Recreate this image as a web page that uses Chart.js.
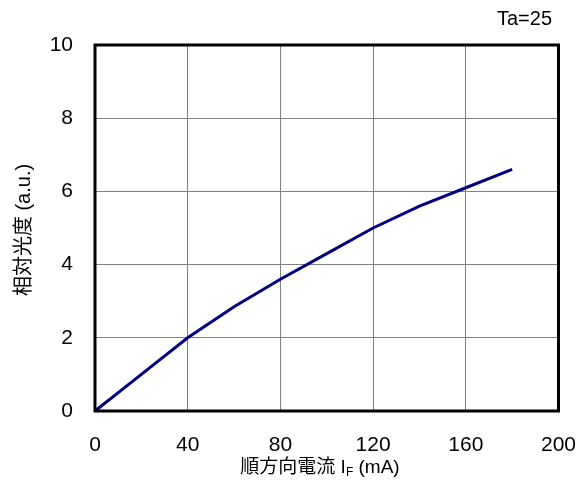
<!DOCTYPE html>
<html>
<head>
<meta charset="utf-8">
<script src="https://cdn.jsdelivr.net/npm/chart.js@4/dist/chart.umd.min.js"></script>
<style>
html,body{margin:0;padding:0;background:#fff;}
#c{display:block;}
</style>
</head>
<body>
<canvas id="c" width="588" height="486"></canvas>
<script>
const currentMA = [0, 20, 40, 60, 80, 100, 120, 140, 160, 180];
const relLuminance = [0, 1.0, 2.0, 2.85, 3.6, 4.3, 5.0, 5.6, 6.1, 6.6];
const xTicks = [0, 40, 80, 120, 160, 200];
const yTicks = [0, 2, 4, 6, 8, 10];
const yTitle = '相対光度 (a.u.)';
const xTitleMain = '順方向電流 I';
const xTitleSub = 'F';
const xTitleTail = ' (mA)';
const noteText = 'Ta=25';

const FONT = '"Liberation Sans", Arial, "Noto Sans CJK JP", sans-serif';

const decor = {
  id: 'decor',
  afterDraw(chart) {
    const ctx = chart.ctx;
    const a = chart.chartArea;
    ctx.save();
    ctx.strokeStyle = '#000';
    ctx.lineWidth = 3;
    ctx.strokeRect(a.left, a.top, a.right - a.left, a.bottom - a.top);
    ctx.fillStyle = '#000';
    ctx.font = '20px ' + FONT;
    ctx.textAlign = 'right';
    ctx.textBaseline = 'middle';
    ctx.fillText(noteText, 552, 19);
    const mainFont = '19px ' + FONT;
    const subFont = '12px ' + FONT;
    ctx.font = mainFont;
    const w1 = ctx.measureText(xTitleMain).width;
    const w3 = ctx.measureText(xTitleTail).width;
    ctx.font = subFont;
    const w2 = ctx.measureText(xTitleSub).width;
    const total = w1 + w2 + w3;
    let x = 320 - total / 2;
    const y = 468;
    ctx.textAlign = 'left';
    ctx.textBaseline = 'middle';
    ctx.font = mainFont;
    ctx.fillText(xTitleMain, x, y);
    x += w1;
    ctx.font = subFont;
    ctx.fillText(xTitleSub, x, y + 5);
    x += w2;
    ctx.font = mainFont;
    ctx.fillText(xTitleTail, x, y);
    ctx.translate(24, 230);
    ctx.rotate(-Math.PI / 2);
    ctx.textAlign = 'center';
    ctx.textBaseline = 'middle';
    ctx.font = '20px ' + FONT;
    ctx.fillText(yTitle, 0, 0);
    ctx.restore();
  }
};

new Chart(document.getElementById('c'), {
  type: 'line',
  data: {
    datasets: [{
      data: currentMA.map((v, i) => ({x: v, y: relLuminance[i]})),
      borderColor: '#000080',
      borderWidth: 3,
      pointRadius: 0,
      tension: 0,
      fill: false,
      clip: false
    }]
  },
  options: {
    responsive: false,
    animation: false,
    devicePixelRatio: 1,
    layout: { padding: { left: 0, top: 45, right: 29.5, bottom: 0 } },
    plugins: { legend: { display: false }, tooltip: { enabled: false } },
    scales: {
      x: {
        type: 'linear',
        min: 0, max: 200,
        afterBuildTicks(s) { s.ticks = xTicks.map(v => ({value: v})); },
        afterFit(s) { s.height = 75; s.paddingLeft = 0; s.paddingRight = 0; },
        grid: { color: '#808080', lineWidth: 1, drawTicks: false },
        border: { display: false },
        ticks: { color: '#000', font: { family: FONT, size: 21 }, padding: 22, maxRotation: 0 }
      },
      y: {
        type: 'linear',
        min: 0, max: 10,
        afterBuildTicks(s) { s.ticks = yTicks.map(v => ({value: v})); },
        afterFit(s) { s.width = 95; s.paddingTop = 0; s.paddingBottom = 0; },
        grid: { color: '#808080', lineWidth: 1, drawTicks: false },
        border: { display: false },
        ticks: { color: '#000', font: { family: FONT, size: 21 }, padding: 22 }
      }
    }
  },
  plugins: [decor]
});
</script>
</body>
</html>
